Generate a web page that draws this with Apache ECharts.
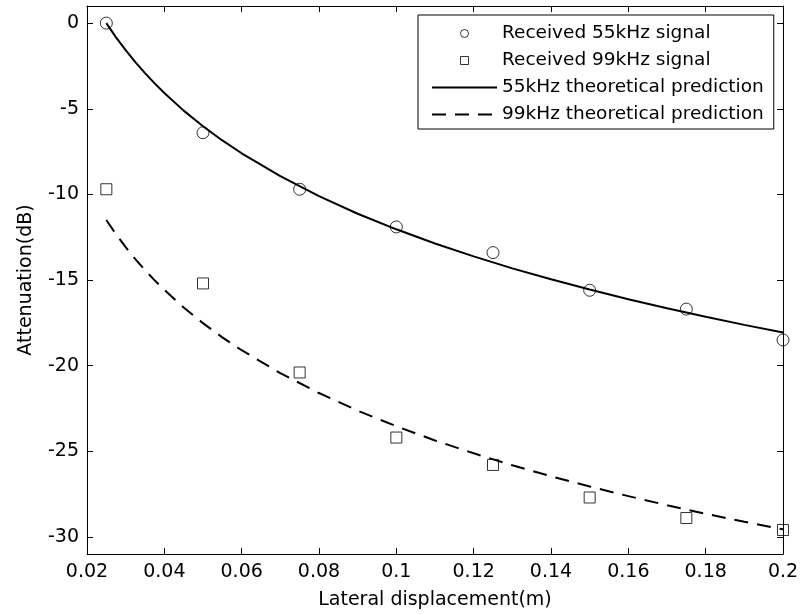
<!DOCTYPE html>
<html>
<head>
<meta charset="utf-8">
<script src="https://cdn.jsdelivr.net/npm/echarts@6/dist/echarts.min.js"></script>
<style>
  html, body { margin: 0; padding: 0; background: #fff; }
  #chart { width: 800px; height: 614px; }
</style>
</head>
<body>
<div id="chart"></div>
<script>
// Measured attenuation at each lateral displacement (m)
const displacement = [0.025, 0.05, 0.075, 0.1, 0.125, 0.15, 0.175, 0.2];
const received55 = [0, -6.4, -9.7, -11.9, -13.4, -15.6, -16.7, -18.5];
const received99 = [-9.7, -15.2, -20.4, -24.2, -25.8, -27.7, -28.9, -29.6];

// Theoretical prediction curves
const curveX = [0.025, 0.0275, 0.03, 0.0325, 0.035, 0.0375, 0.04, 0.045, 0.05, 0.055, 0.06,
                0.07, 0.08, 0.09, 0.1, 0.11, 0.12, 0.13, 0.14, 0.15, 0.16, 0.17, 0.18, 0.19, 0.2];
const theory55 = [0, -0.83, -1.58, -2.28, -2.92, -3.52, -4.08, -5.11, -6.02, -6.85, -7.60,
                  -8.94, -10.10, -11.13, -12.04, -12.87, -13.62, -14.32, -14.96, -15.56,
                  -16.12, -16.65, -17.15, -17.62, -18.06];
const theory99 = [-11.50, -12.33, -13.08, -13.78, -14.42, -15.02, -15.58, -16.61, -17.52, -18.35, -19.10,
                  -20.44, -21.60, -22.63, -23.54, -24.37, -25.12, -25.82, -26.46, -27.06,
                  -27.62, -28.15, -28.65, -29.12, -29.56];

// Tick positions
const xTicks = [0.02, 0.04, 0.06, 0.08, 0.1, 0.12, 0.14, 0.16, 0.18, 0.2];
const yTicks = [0, -5, -10, -15, -20, -25, -30];

const FONT = 'DejaVu Sans';
const pairs = (xs, ys) => xs.map((x, i) => [x, ys[i]]);

const tickStyle = { show: true, inside: true, length: 6, lineStyle: { color: '#000', width: 1 } };
const lineStyle = { show: true, onZero: false, lineStyle: { color: '#000', width: 1 } };
const hollowIcon = { color: 'rgba(0,0,0,0)', borderColor: '#000', borderWidth: 1 };

const chart = echarts.init(document.getElementById('chart'), null, { renderer: 'canvas' });

chart.setOption({
  animation: false,
  backgroundColor: '#fff',
  grid: { left: 87, right: 17, top: 6, bottom: 60, containLabel: false, outerBoundsMode: 'none' },
  xAxis: [
    {
      type: 'value', min: 0.02, max: 0.2, position: 'bottom',
      name: 'Lateral displacement(m)', nameLocation: 'middle', nameGap: 37,
      nameTextStyle: { color: '#000', fontFamily: FONT, fontSize: 19 },
      axisLine: lineStyle,
      axisTick: Object.assign({ customValues: xTicks }, tickStyle),
      axisLabel: { customValues: xTicks, color: '#000', fontFamily: FONT, fontSize: 19, margin: 9 },
      splitLine: { show: false }
    },
    {
      type: 'value', min: 0.02, max: 0.2, position: 'top',
      axisLine: lineStyle,
      axisTick: Object.assign({ customValues: xTicks }, tickStyle),
      axisLabel: { show: false },
      splitLine: { show: false }
    }
  ],
  yAxis: [
    {
      type: 'value', min: -31, max: 1, position: 'left',
      name: 'Attenuation(dB)', nameLocation: 'middle', nameGap: 51,
      nameTextStyle: { color: '#000', fontFamily: FONT, fontSize: 19 },
      axisLine: lineStyle,
      axisTick: Object.assign({ customValues: yTicks }, tickStyle),
      axisLabel: { customValues: yTicks, color: '#000', fontFamily: FONT, fontSize: 19, margin: 8 },
      splitLine: { show: false }
    },
    {
      type: 'value', min: -31, max: 1, position: 'right',
      axisLine: lineStyle,
      axisTick: Object.assign({ customValues: yTicks }, tickStyle),
      axisLabel: { show: false },
      splitLine: { show: false }
    }
  ],
  legend: {
    orient: 'vertical',
    left: 418, top: 15,
    padding: [9, 10, 5, 13],
    itemWidth: 65, itemHeight: 8, itemGap: 8,
    borderColor: '#000', borderWidth: 1,
    backgroundColor: '#fff',
    selectedMode: false,
    textStyle: { color: '#000', fontFamily: FONT, fontSize: 18.5 },
    data: [
      { name: 'Received 55kHz signal', icon: 'circle', itemStyle: hollowIcon },
      { name: 'Received 99kHz signal', icon: 'path://M0,0H10V10H0Z', itemStyle: hollowIcon },
      { name: '55kHz theoretical prediction', itemStyle: { opacity: 0 } },
      { name: '99kHz theoretical prediction', itemStyle: { opacity: 0 } }
    ]
  },
  series: [
    {
      name: '55kHz theoretical prediction', type: 'line',
      data: pairs(curveX, theory55),
      smooth: false, showSymbol: false, symbol: 'none',
      lineStyle: { color: '#000', width: 2 }, itemStyle: { color: '#000' }, z: 2
    },
    {
      name: '99kHz theoretical prediction', type: 'line',
      data: pairs(curveX, theory99),
      smooth: false, showSymbol: false, symbol: 'none',
      lineStyle: { color: '#000', width: 2, type: [14, 9] }, itemStyle: { color: '#000' }, z: 2
    },
    {
      name: 'Received 55kHz signal', type: 'scatter',
      data: pairs(displacement, received55),
      symbol: 'circle', symbolSize: 12, clip: false,
      itemStyle: { color: 'rgba(0,0,0,0)', borderColor: '#000', borderWidth: 1 }, z: 3
    },
    {
      name: 'Received 99kHz signal', type: 'scatter',
      data: pairs(displacement, received99),
      symbol: 'rect', symbolSize: 11, clip: false,
      itemStyle: { color: 'rgba(0,0,0,0)', borderColor: '#000', borderWidth: 1 }, z: 3
    }
  ]
});
</script>
</body>
</html>
